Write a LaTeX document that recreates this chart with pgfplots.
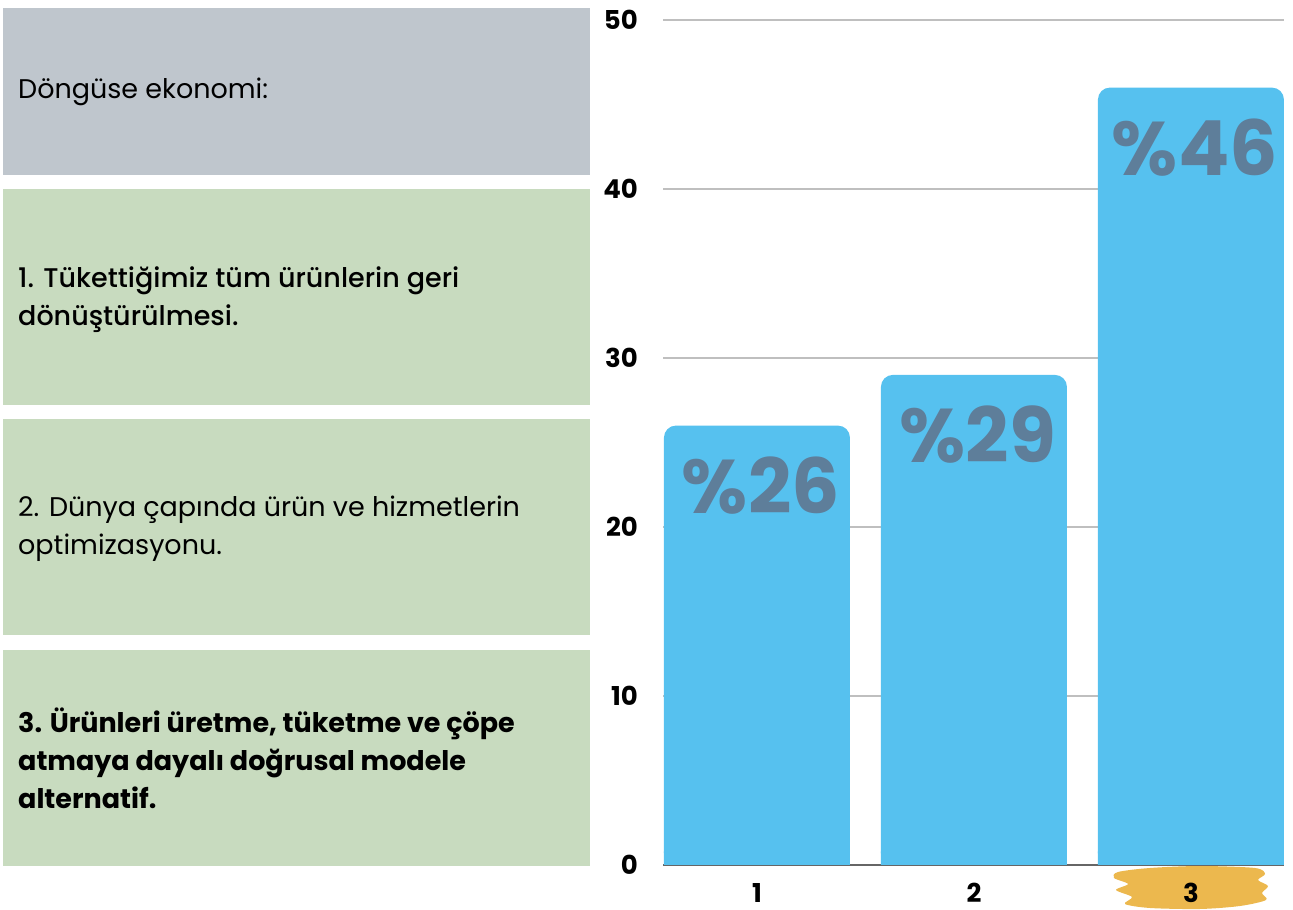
\documentclass[border=0pt]{standalone}
\usepackage{pgfplots}
\pgfplotsset{compat=1.18}
\usepackage{fontspec}
\setmainfont{Poppins}
\newfontfamily\popmed{Poppins Medium}
\definecolor{barblue}{HTML}{56C1EF}
\definecolor{lblc}{HTML}{5E7E9A}
\definecolor{boxgrey}{HTML}{BFC6CD}
\definecolor{boxgreen}{HTML}{C8DBBF}
\definecolor{brush}{HTML}{ECB84E}
\definecolor{gridc}{HTML}{BFBFBF}
\definecolor{axc}{HTML}{666666}
\begin{document}
\begin{tikzpicture}[x=1pt,y=1pt]
\useasboundingbox (0,0) rectangle (1293,910);
% left text panels
\fill[boxgrey] (3,735) rectangle (590,902);
\fill[boxgreen] (3,505) rectangle (590,721);
\fill[boxgreen] (3,275) rectangle (590,491);
\fill[boxgreen] (3,44) rectangle (590,260);
\node[anchor=west, align=left, inner sep=0pt, font=\fontsize{27}{38}\selectfont] at (18,818.5) {Döngüse ekonomi:};
\node[anchor=west, align=left, inner sep=0pt, font=\popmed\fontsize{27}{38}\selectfont] at (18,610) {1. Tükettiğimiz tüm ürünlerin geri\\dönüştürülmesi.};
\node[anchor=west, align=left, inner sep=0pt, font=\fontsize{27}{38}\selectfont] at (18,381) {2. Dünya çapında ürün ve hizmetlerin\\optimizasyonu.};
\node[anchor=west, align=left, inner sep=0pt, font=\bfseries\fontsize{27}{38}\selectfont] at (18,152) {3. Ürünleri üretme, tüketme ve çöpe\\atmaya dayalı doğrusal modele\\alternatif.};
% brush highlight behind tick label 3
\fill[brush] plot[smooth cycle, tension=0.5] coordinates {(1118,38) (1150,42) (1200,44) (1255,42) (1265,36) (1258,30) (1268,24) (1262,17) (1266,10) (1240,4) (1200,1) (1150,2) (1125,6) (1132,13) (1116,20) (1128,26) (1114,32)};
\begin{axis}[
  at={(663pt,45pt)}, anchor=south west,
  scale only axis, width=621pt, height=845pt,
  xmin=0.567, xmax=3.429, ymin=0, ymax=50,
  ytick={0,10,20,30,40,50}, xtick={1,2,3},
  ymajorgrids, grid style={gridc, line width=1.5pt},
  axis x line*=bottom, axis y line*=left,
  y axis line style={draw=none},
  x axis line style={axc, line width=2pt, -},
  major tick length=0pt,
  /pgf/number format/assume math mode=true,
  tick label style={font=\bfseries\fontsize{26}{26}\selectfont, text=black, inner sep=0pt},
  yticklabel style={anchor=east, xshift=-25pt},
  xticklabel style={anchor=north, yshift=-18pt},
  clip=false,
]
\addplot[ybar, bar width=186pt, bar shift=0pt, fill=barblue, draw=none, rounded corners=12pt,
  point meta=y,
  nodes near coords={\%\pgfmathprintnumber{\pgfplotspointmeta}},
  every node near coord/.append style={anchor=center, yshift=-60pt, xshift=4pt, text=lblc, font=\bfseries\fontsize{76}{76}\selectfont}]
  coordinates {(1,26) (2,29) (3,46)};
\addplot[ybar, bar width=186pt, bar shift=0pt, fill=barblue, draw=none]
  coordinates {(1,0.8) (2,0.8) (3,0.8)};
\end{axis}
\end{tikzpicture}
\end{document}
